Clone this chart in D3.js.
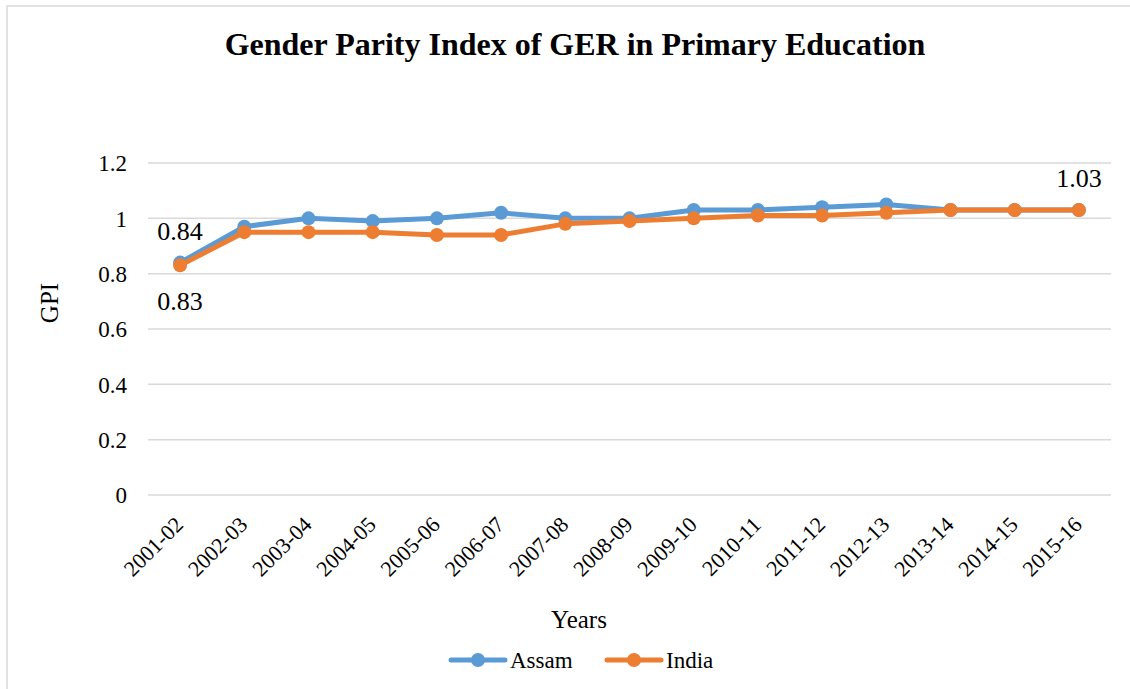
<!DOCTYPE html>
<html>
<head>
<meta charset="utf-8">
<script src="https://cdn.jsdelivr.net/npm/d3@7"></script>
</head>
<body style="margin:0">
<svg id="chart" width="1130" height="689" font-family="Liberation Serif"></svg>
<script>
const years = ['2001-02', '2002-03', '2003-04', '2004-05', '2005-06', '2006-07', '2007-08',
  '2008-09', '2009-10', '2010-11', '2011-12', '2012-13', '2013-14', '2014-15', '2015-16'];
const assam = [0.84, 0.97, 1.00, 0.99, 1.00, 1.02, 1.00, 1.00, 1.03, 1.03, 1.04, 1.05, 1.03, 1.03, 1.03];
const india = [0.83, 0.95, 0.95, 0.95, 0.94, 0.94, 0.98, 0.99, 1.00, 1.01, 1.01, 1.02, 1.03, 1.03, 1.03];
const yTicks = [0, 0.2, 0.4, 0.6, 0.8, 1, 1.2];

const series = [
  { name: 'Assam', values: assam, color: '#5b9bd5' },
  { name: 'India', values: india, color: '#ed7d31' }
];

const FONT = 'Liberation Serif';
const svg = d3.select('svg#chart');
const margin = { left: 148, right: 1111, top: 163, bottom: 495 };

// outer border of the chart area
svg.append('rect')
  .attr('x', 7).attr('y', 6)
  .attr('width', 1140).attr('height', 700)
  .attr('fill', 'none').attr('stroke', '#d9d9d9').attr('stroke-width', 1.5);

let x = d3.scalePoint().domain(years).range([margin.left, margin.right]).padding(0.5);
let y = d3.scaleLinear().domain([0, 1.2]).range([margin.bottom, margin.top]);

// gridlines
svg.append('g').selectAll('line')
  .data(yTicks)
  .enter().append('line')
  .attr('x1', margin.left).attr('x2', margin.right)
  .attr('y1', d => y(d)).attr('y2', d => y(d))
  .attr('stroke', '#d9d9d9').attr('stroke-width', 1.5);

// y axis labels
let yAxis = svg.append('g')
  .attr('transform', `translate(${margin.left - 21},0)`)
  .call(d3.axisLeft(y).tickValues(yTicks).tickSize(0).tickPadding(0).tickFormat(d3.format('')))
  .attr('font-family', FONT).attr('font-size', 23);
yAxis.select('.domain').remove();
yAxis.selectAll('text').attr('dy', '0.34em').attr('fill', '#000');

// x axis labels, rotated
let xAxis = svg.append('g')
  .attr('transform', `translate(0,${margin.bottom})`)
  .call(d3.axisBottom(x).tickSize(0).tickPadding(0))
  .attr('font-family', FONT).attr('font-size', 22);
xAxis.select('.domain').remove();
xAxis.selectAll('text')
  .attr('fill', '#000')
  .attr('text-anchor', 'end')
  .attr('dy', 0)
  .attr('transform', 'translate(4,31) rotate(-45)');

// lines and markers
let line = d3.line().x((d, i) => x(years[i])).y(d => y(d));
series.forEach(s => {
  svg.append('path')
    .datum(s.values)
    .attr('d', line)
    .attr('fill', 'none')
    .attr('stroke', s.color)
    .attr('stroke-width', 5)
    .attr('stroke-linejoin', 'round')
    .attr('stroke-linecap', 'round');
  svg.append('g').selectAll('circle')
    .data(s.values)
    .enter().append('circle')
    .attr('cx', (d, i) => x(years[i]))
    .attr('cy', d => y(d))
    .attr('r', 7)
    .attr('fill', s.color);
});

function label(tx, ty, str, size, anchor) {
  return svg.append('text').attr('x', tx).attr('y', ty)
    .attr('text-anchor', anchor || 'middle')
    .attr('font-family', FONT).attr('font-size', size).attr('fill', '#000')
    .text(str);
}

// data labels
label(x(years[0]), y(assam[0]) - 23, assam[0].toFixed(2), 26);
label(x(years[0]), y(india[0]) + 45, india[0].toFixed(2), 26);
label(x(years[14]), y(india[14]) - 23, india[14].toFixed(2), 26);

// title
label(575, 55, 'Gender Parity Index of GER in Primary Education', 32).attr('font-weight', 'bold');

// axis titles
label(0, 0, 'GPI', 25).attr('transform', 'translate(58,303) rotate(-90)');
label(579, 628, 'Years', 25);

// legend
let legendX = [451, 607];
series.forEach((s, i) => {
  let g = svg.append('g').attr('transform', `translate(${legendX[i]},660)`);
  g.append('line').attr('x1', 0).attr('x2', 54).attr('y1', 0).attr('y2', 0)
    .attr('stroke', s.color).attr('stroke-width', 5).attr('stroke-linecap', 'round');
  g.append('circle').attr('cx', 27).attr('cy', 0).attr('r', 7).attr('fill', s.color);
  g.append('text').attr('x', 59).attr('y', 8)
    .attr('font-family', FONT).attr('font-size', 23).attr('fill', '#000').text(s.name);
});
</script>
</body>
</html>
